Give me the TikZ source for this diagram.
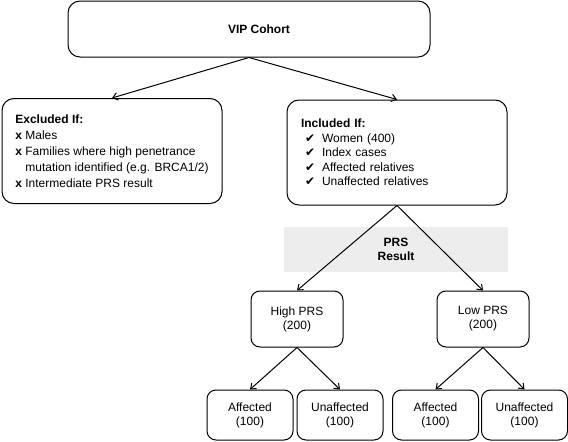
\documentclass[tikz,border=0pt]{standalone}
\usepackage{fontspec}
\setmainfont{Liberation Sans}
\newfontfamily\checkfont{DejaVu Sans}
\usetikzlibrary{arrows.meta,shapes}
\usetikzlibrary{calc}
\tikzstyle{bigbox}=[draw,rounded corners=12pt,line width=1pt,minimum width=220pt,minimum height=105pt,inner sep=0pt,align=left,font=\fontsize{12}{14.5}\selectfont]
\tikzstyle{smallbox}=[draw,rounded corners=9pt,line width=1pt,inner sep=0pt,align=center,font=\fontsize{12}{14}\selectfont]
\tikzstyle{shadebox}=[fill=black!7,minimum width=224pt,minimum height=45pt,inner sep=0pt,align=center,font=\bfseries\fontsize{12}{13.5}\selectfont]
\tikzstyle{edge} = [draw,line width=1pt,-{Straight Barb[angle=75:6pt]}]
\newcommand{\nocross}{\textbf{x}\ }
\newcommand{\tick}{\hspace*{4pt}\makebox[17pt][l]{\checkfont ✔}}

\begin{document}
\begin{tikzpicture}[x=1pt,y=-1pt]
    \useasboundingbox (0,0) rectangle (568,442);

    \node[smallbox,rounded corners=12pt,minimum width=362pt,minimum height=56pt,font=\bfseries\fontsize{12}{14}\selectfont] (vip) at (249,29) {\hspace*{20pt}VIP Cohort};

    \node[bigbox,font=\fontsize{12}{16}\selectfont] (excl) at (112,151)
        {\textbf{Excluded If:}\\
         \nocross Males\\
         \nocross Families where high penetrance\\
         \phantom{\nocross}mutation identified (e.g. BRCA1/2)\\
         \nocross Intermediate PRS result};

    \node[bigbox,text width=192pt] (incl) at (397,152.5)
        {\textbf{Included If:}\\
         \tick Women (400)\\
         \tick Index cases\\
         \tick Affected relatives\\
         \tick Unaffected relatives};

    \node[shadebox] (prs) at (396,249.5) {PRS\\Result};

    \foreach \pos/ \name/ \label in {{(297,319)/high/High PRS}, {(483,319)/low/Low PRS}}
        \node[smallbox,minimum width=92pt,minimum height=56pt] (\name) at \pos {\label\\(200)};

    \foreach \pos/ \name/ \label in {{(250,415)/affhigh/Affected}, {(340,415)/unaffhigh/Unaffected}, {(435.5,415)/afflow/Affected}, {(524.5,415)/unafflow/Unaffected}}
        \node[smallbox,minimum width=86pt,minimum height=50pt] (\name) at \pos {\label\\(100)};

    % Connect boxes with arrows
    \foreach \source/ \dest in {vip/excl, vip/incl, incl/high, incl/low, high/affhigh, high/unaffhigh, low/afflow, low/unafflow}
        \path[edge] (\source.south) -- (\dest.north);

\end{tikzpicture}
\end{document}
